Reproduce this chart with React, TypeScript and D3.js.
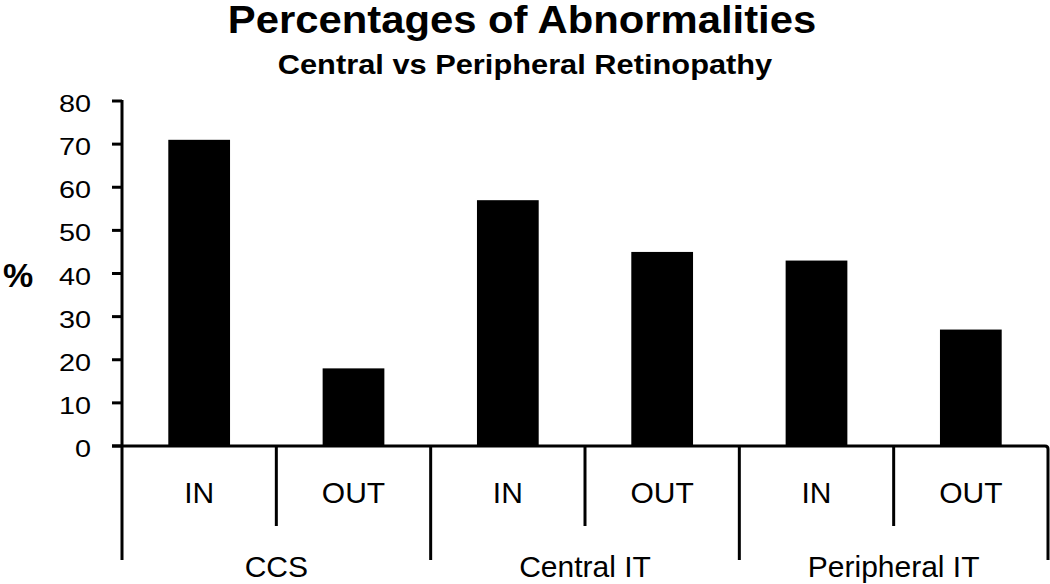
import React from "react";
import * as d3 from "d3";

const title = "Percentages of Abnormalities";
const subtitle = "Central vs Peripheral Retinopathy";
const groups = ["CCS", "Central IT", "Peripheral IT"];
const subCategories = ["IN", "OUT"];
const values = [71, 18, 57, 45, 43, 27];
const yTicks = [0, 10, 20, 30, 40, 50, 60, 70, 80];
const yLabel = "%";

const W = 1050;
const H = 584;
const FONT = "'Liberation Sans', Arial, Helvetica, sans-serif";

export default function App() {
  const left = 122;
  const right = 1048;
  const y0 = 446;
  const y80 = 101;
  const idx = values.map((_, i) => i);
  const x = d3
    .scaleBand<number>()
    .domain(idx)
    .range([left, right])
    .paddingInner(0.6)
    .paddingOuter(0.3);
  const y = d3.scaleLinear().domain([0, 80]).range([y0, y80]);
  const step = x.step();
  const bandStart = (i: number) => left + i * step;
  const minorSepY = 526;
  const majorSepY = 560;
  const sw = 3;

  return (
    <div style={{ position: "absolute", left: 0, top: 0 }}>
      <svg width={W} height={H} style={{ display: "block", background: "#fff" }}>
        <rect x={0} y={0} width={W} height={H} fill="#fff" />
        {/* titles */}
        <text
          transform={`translate(522,33) scale(1.1,1)`}
          textAnchor="middle"
          fontFamily={FONT}
          fontWeight="bold"
          fontSize={38}
          fill="#000"
        >
          {title}
        </text>
        <text
          transform={`translate(525,74) scale(1.12,1)`}
          textAnchor="middle"
          fontFamily={FONT}
          fontWeight="bold"
          fontSize={27.5}
          fill="#000"
        >
          {subtitle}
        </text>
        {/* y label */}
        <text
          x={18}
          y={287}
          textAnchor="middle"
          fontFamily={FONT}
          fontWeight="bold"
          fontSize={34}
          fill="#000"
        >
          {yLabel}
        </text>
        {/* bars */}
        {values.map((v, i) => (
          <rect
            key={i}
            x={x(i)}
            y={y(v)}
            width={x.bandwidth()}
            height={y(0) - y(v)}
            fill="#000"
          />
        ))}
        {/* y axis */}
        <line x1={left} x2={left} y1={y(80) - 1} y2={majorSepY} stroke="#000" strokeWidth={sw} />
        {yTicks.map((t) => (
          <g key={t}>
            <line x1={left - 10} x2={left} y1={y(t)} y2={y(t)} stroke="#000" strokeWidth={sw} />
            <text
              transform={`translate(91,${y(t) + 11}) scale(1.2,1)`}
              textAnchor="end"
              fontFamily={FONT}
              fontSize={24}
              fill="#000"
            >
              {t}
            </text>
          </g>
        ))}
        {/* x axis */}
        <path
          d={`M${left - 10},${y0}H${right - 3}Q${right},${y0} ${right},${y0 + 3}V${majorSepY}`}
          fill="none"
          stroke="#000"
          strokeWidth={sw}
        />
        {/* separators */}
        {idx.slice(1).map((i) => (
          <line
            key={i}
            x1={bandStart(i)}
            x2={bandStart(i)}
            y1={y0}
            y2={i % 2 === 0 ? majorSepY : minorSepY}
            stroke="#000"
            strokeWidth={sw}
          />
        ))}
        {/* sub labels */}
        {idx.map((i) => (
          <text
            key={i}
            x={bandStart(i) + step / 2}
            y={503}
            textAnchor="middle"
            fontFamily={FONT}
            fontSize={30}
            fill="#000"
          >
            {subCategories[i % 2]}
          </text>
        ))}
        {/* group labels */}
        {groups.map((g, gi) => (
          <text
            key={g}
            x={bandStart(gi * 2) + step}
            y={577}
            textAnchor="middle"
            fontFamily={FONT}
            fontSize={30}
            fill="#000"
          >
            {g}
          </text>
        ))}
      </svg>
    </div>
  );
}
